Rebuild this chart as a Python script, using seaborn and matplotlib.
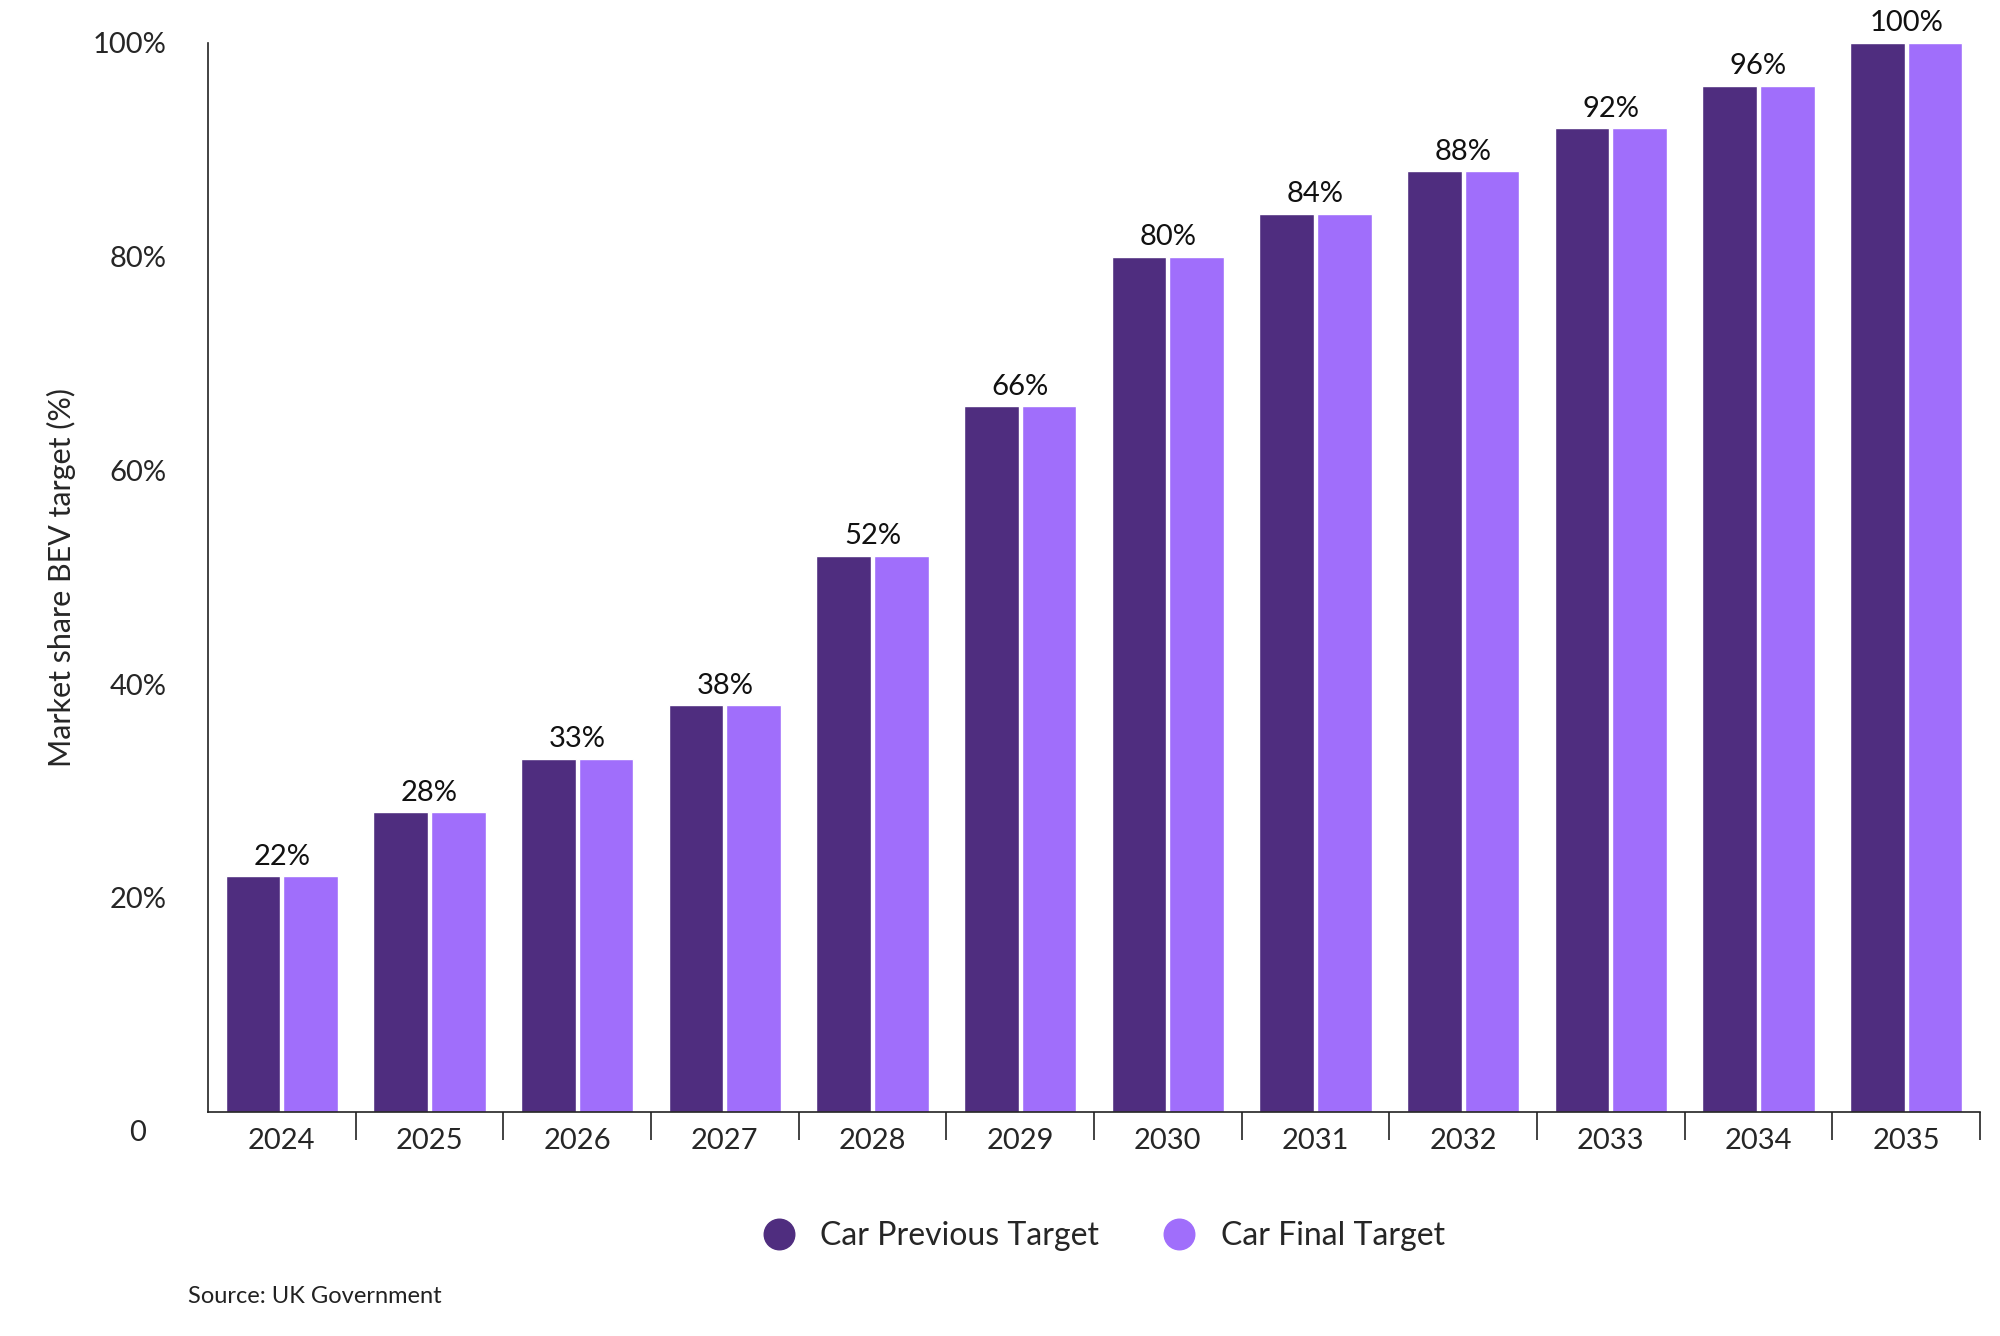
import pandas as pd
import matplotlib.pyplot as plt
import seaborn as sns
from matplotlib.lines import Line2D

years = ['2024', '2025', '2026', '2027', '2028', '2029', '2030', '2031', '2032', '2033', '2034', '2035']
previous_target = [22, 28, 33, 38, 52, 66, 80, 84, 88, 92, 96, 100]
final_target = [22, 28, 33, 38, 52, 66, 80, 84, 88, 92, 96, 100]
series = ['Car Previous Target', 'Car Final Target']
colors = ['#4F2D7F', '#A06EFB']

df = pd.DataFrame({
    'year': years * 2,
    'value': previous_target + final_target,
    'series': [series[0]] * len(years) + [series[1]] * len(years),
})

sns.set_theme(style='white')
plt.rcParams['font.family'] = ['Lato', 'DejaVu Sans']

fig = plt.figure(figsize=(20, 13.36), dpi=100)
ax = fig.add_axes([0.104, 0.168, 0.886, 0.80])
sns.barplot(data=df, x='year', y='value', hue='series', palette=colors,
            width=0.78, gap=0.05, saturation=1, ax=ax, legend=False)

for i, v in enumerate(previous_target):
    ax.text(i, v + 0.6, f'{v}%', ha='center', va='bottom', fontsize=21, color='#111111')

ax.set_ylim(0, 100)
ax.set_xlim(-0.5, len(years) - 0.5)
ax.set_yticks([0, 20, 40, 60, 80, 100])
ax.set_yticklabels(['', '20%', '40%', '60%', '80%', '100%'])
ax.text(-0.035, -0.02, '0', transform=ax.transAxes, ha='right', va='center', fontsize=21)
ax.tick_params(axis='y', direction='in', length=44, width=1.2, color='#222222', labelsize=21, pad=-20)
for lbl in ax.get_yticklabels():
    lbl.set_horizontalalignment('right')
ax.tick_params(axis='y', pad=30)
ax.set_xticks([i + 0.5 for i in range(len(years))], minor=True)
ax.tick_params(axis='x', which='major', length=0, labelsize=21, pad=12)
ax.tick_params(axis='x', which='minor', direction='out', length=20, width=1.2, color='#222222', bottom=True)
ax.set_xlabel('')
ax.set_ylabel('Market share BEV target (%)', fontsize=22, labelpad=12)
for s in ['top', 'right']:
    ax.spines[s].set_visible(False)
for s in ['left', 'bottom']:
    ax.spines[s].set_color('#222222')
    ax.spines[s].set_linewidth(1.2)

handles = [Line2D([0], [0], marker='o', color='none', markerfacecolor=c, markeredgecolor=c,
                  markersize=22) for c in colors]
fig.legend(handles, series, loc='center', bbox_to_anchor=(0.548, 0.075), ncol=2, frameon=False,
           fontsize=23, handletextpad=0.3, columnspacing=1.5)
fig.text(0.094, 0.025, 'Source: UK Government', fontsize=17, color='#222222')

fig.savefig('out.png', dpi=100)
